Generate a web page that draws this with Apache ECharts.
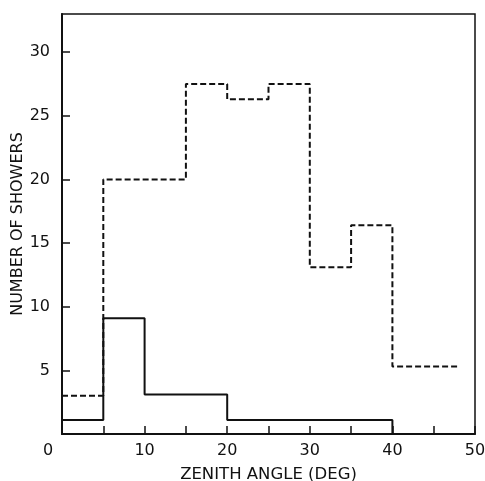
<!DOCTYPE html>
<html>
<head>
<meta charset="utf-8">
<script src="https://cdn.jsdelivr.net/npm/echarts@6/dist/echarts.min.js"></script>
<style>html,body{margin:0;padding:0;background:#fff}#c{width:485px;height:481px}</style>
</head>
<body>
<div id="c"></div>
<script>
// Dashed histogram: bin edges and counts
const dashedEdges = [0, 5, 15, 20, 25, 30, 35, 40, 48];
const dashedCounts = [3, 20, 27.5, 26.3, 27.5, 13.1, 16.4, 5.3];
// Solid histogram: bin edges and counts
const solidEdges = [0, 5, 10, 20, 40];
const solidCounts = [1.1, 9.1, 3.1, 1.1];
const xTicks = [0, 10, 20, 30, 40, 50];
const yTicks = [5, 10, 15, 20, 25, 30];
const xTitle = 'ZENITH ANGLE (DEG)';
const yTitle = 'NUMBER OF SHOWERS';

function stepPoints(edges, counts, dropToZero) {
  const pts = [];
  for (let i = 0; i < counts.length; i++) pts.push([edges[i], counts[i]]);
  const last = edges[edges.length - 1];
  pts.push([last, counts[counts.length - 1]]);
  if (dropToZero) pts.push([last, 0]);
  return pts;
}

const font = 'DejaVu Sans';
const chart = echarts.init(document.getElementById('c'), null, {renderer: 'canvas'});
chart.setOption({
  animation: false,
  backgroundColor: '#fff',
  grid: {left: 62, right: 10, top: 14, bottom: 47, outerBoundsMode: 'none', containLabel: false,
         show: true, borderColor: '#111', borderWidth: 1.5, backgroundColor: 'transparent'},
  xAxis: {
    type: 'value', min: 0, max: 50, interval: 5,
    name: xTitle, nameLocation: 'middle', nameGap: 32, nameMoveOverlap: false,
    nameTextStyle: {fontFamily: font, fontSize: 16.5, color: '#111'},
    axisLine: {show: true, onZero: false, lineStyle: {color: '#111', width: 2}},
    axisTick: {show: true, inside: true, length: 8, lineStyle: {color: '#111', width: 1.5}},
    splitLine: {show: false},
    axisLabel: {
      margin: 9, fontFamily: font, fontSize: 16, color: '#111',
      formatter: v => xTicks.indexOf(v) < 0 ? '' : (v === 0 ? '{o|0}' : String(v)),
      rich: {o: {fontFamily: font, fontSize: 16, color: '#111', padding: [0, 28, 0, 0]}}
    }
  },
  yAxis: {
    type: 'value', min: 0, max: 33, interval: 5,
    name: yTitle, nameLocation: 'middle', nameGap: 36, nameRotate: 90, nameMoveOverlap: false,
    nameTextStyle: {fontFamily: font, fontSize: 16, color: '#111'},
    axisLine: {show: true, lineStyle: {color: '#111', width: 2}},
    axisTick: {show: true, inside: true, length: 8, lineStyle: {color: '#111', width: 1.5}},
    splitLine: {show: false},
    axisLabel: {
      margin: 12, fontFamily: font, fontSize: 16, color: '#111',
      showMaxLabel: false,
      formatter: v => yTicks.indexOf(v) < 0 ? '' : String(v)
    }
  },
  series: [
    {
      type: 'line', step: 'end', symbol: 'none',
      data: stepPoints(dashedEdges, dashedCounts, false),
      lineStyle: {color: '#111', width: 2, type: [6, 3]}
    },
    {
      type: 'line', step: 'end', symbol: 'none',
      data: stepPoints(solidEdges, solidCounts, true),
      lineStyle: {color: '#111', width: 2}
    }
  ]
});
</script>
</body>
</html>
